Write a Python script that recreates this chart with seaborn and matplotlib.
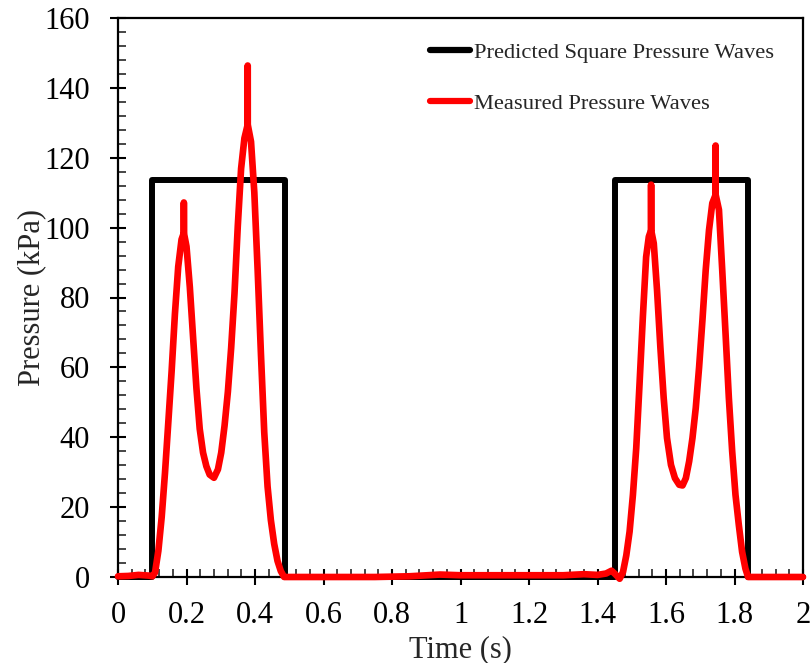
import numpy as np
import pandas as pd
import matplotlib
matplotlib.use("Agg")
import matplotlib.pyplot as plt
import seaborn as sns
from matplotlib.ticker import MultipleLocator, FixedLocator, FixedFormatter

# ---- data ----
t_square = [0.0, 0.100, 0.100, 0.487, 0.487, 1.452, 1.452, 1.840, 1.840, 2.0]
p_square = [0.0, 0.0, 113.5, 113.5, 0.0, 0.0, 113.5, 113.5, 0.0, 0.0]

t_measured = [
    0.0, 0.03, 0.06, 0.09, 0.1005, 0.1082,
    0.1179, 0.1276, 0.1372, 0.1469, 0.1565, 0.1662, 0.1758, 0.1855, 0.1923, 0.1923, 0.1924,
    0.2000, 0.2097, 0.2193, 0.2290, 0.2386, 0.2483, 0.2580, 0.2676, 0.2802, 0.2918,
    0.3014, 0.3111, 0.3208, 0.3304, 0.3401, 0.3497, 0.3594, 0.3691, 0.3787, 0.3787, 0.3788,
    0.3884, 0.3980, 0.4077, 0.4174, 0.4270, 0.4367, 0.4463, 0.4560, 0.4657, 0.4753, 0.4850,
    0.60, 0.75, 0.85, 0.94, 1.00, 1.10, 1.20, 1.30, 1.36, 1.40, 1.425, 1.441, 1.452, 1.4647,
    1.4744, 1.4841, 1.4937, 1.5034, 1.5131, 1.5227, 1.5324, 1.5420, 1.5498, 1.5565, 1.5565, 1.5566,
    1.5643, 1.5739, 1.5836, 1.5932, 1.6029, 1.6145, 1.6261, 1.6386, 1.6483, 1.6580, 1.6676,
    1.6773, 1.6869, 1.6966, 1.7063, 1.7159, 1.7256, 1.7352, 1.7449, 1.7449, 1.7450,
    1.7546, 1.7642, 1.7739, 1.7835, 1.7932, 1.8029, 1.8126, 1.8222, 1.8319, 1.8396, 1.90, 2.0,
]
p_measured = [
    0.2, 0.3, 0.6, 0.4, 0.2, 1.3,
    7.5, 17.2, 29.8, 44.3, 58.8, 75.3, 88.8, 96.6, 98.5, 107.2, 98.5,
    94.6, 83.0, 68.5, 54.0, 42.4, 35.6, 31.7, 29.3, 28.4, 30.8,
    35.6, 43.3, 53.0, 65.6, 81.1, 100.4, 116.9, 125.6, 129.5, 146.4, 129.5,
    124.6, 110.1, 87.9, 63.7, 41.4, 25.9, 16.3, 9.5, 4.6, 1.7, 0.0,
    0.0, 0.0, 0.2, 0.7, 0.5, 0.5, 0.5, 0.5, 0.8, 0.6, 1.0, 1.8, 0.8, -0.5,
    1.4, 6.2, 13.0, 23.5, 36.9, 55.2, 74.4, 91.6, 97.4, 99.3, 112.3, 99.3,
    95.5, 82.0, 65.7, 51.3, 39.8, 32.1, 28.3, 26.4, 26.2, 28.3, 33.1,
    39.8, 48.4, 60.0, 73.4, 87.8, 99.3, 107.0, 109.4, 123.5, 109.4,
    105.1, 87.8, 69.6, 51.3, 36.0, 23.5, 14.9, 7.2, 2.4, 0.0, 0.0, 0.0,
]

x_ticks = [0, 0.2, 0.4, 0.6, 0.8, 1.0, 1.2, 1.4, 1.6, 1.8, 2.0]
x_labels = ["0", "0.2", "0.4", "0.6", "0.8", "1", "1.2", "1.4", "1.6", "1.8", "2"]
y_ticks = [0, 20, 40, 60, 80, 100, 120, 140, 160]
y_labels = ["0", "20", "40", "60", "80", "100", "120", "140", "160"]

label_square = "Predicted Square Pressure Waves"
label_meas = "Measured Pressure Waves"

# ---- style ----
sns.set_style("white")
plt.rcParams["font.family"] = ["Liberation Serif", "DejaVu Serif"]

fig = plt.figure(figsize=(8.11, 6.63), dpi=100)
ax = fig.add_axes([118 / 811, (663 - 577) / 663, 685 / 811, 559 / 663])

df_sq = pd.DataFrame({"t": t_square, "p": p_square})
df_me = pd.DataFrame({"t": t_measured, "p": p_measured})

sns.lineplot(data=df_sq, x="t", y="p", ax=ax, color="black", lw=4.3,
             estimator=None, sort=False, label=label_square, clip_on=False, zorder=3)
sns.lineplot(data=df_me, x="t", y="p", ax=ax, color="#ff0000", lw=4.8,
             estimator=None, sort=False, label=label_meas, clip_on=False, zorder=4)

for ln in ax.lines:
    ln.set_solid_joinstyle("round")
    ln.set_solid_capstyle("round")

ax.set_xlim(0, 2)
ax.set_ylim(0, 160)

ax.xaxis.set_major_locator(FixedLocator(x_ticks))
ax.xaxis.set_major_formatter(FixedFormatter(x_labels))
ax.yaxis.set_major_locator(FixedLocator(y_ticks))
ax.yaxis.set_major_formatter(FixedFormatter(y_labels))
ax.xaxis.set_minor_locator(MultipleLocator(0.04))
ax.yaxis.set_minor_locator(MultipleLocator(4))

ax.tick_params(which="major", direction="inout", length=12, width=1.5,
               labelsize=22, colors="black", bottom=True, left=True,
               top=False, right=False)
ax.tick_params(axis="x", which="major", pad=11)
ax.tick_params(axis="y", which="major", pad=14)
ax.tick_params(which="minor", direction="in", length=6, width=1.2,
               bottom=True, left=True, top=False, right=False)

for s in ax.spines.values():
    s.set_linewidth(1.6)
    s.set_color("black")

ax.set_xlabel("Time (s)", fontsize=22, labelpad=4)
ax.set_ylabel("Pressure (kPa)", fontsize=22, labelpad=-1)

leg = ax.legend(loc="upper left", bbox_to_anchor=(0.455, 0.956), frameon=False,
                fontsize=16.2, handlelength=1.78, handletextpad=0.2,
                labelspacing=1.31, borderpad=0, borderaxespad=0)
for h in leg.get_lines():
    h.set_linewidth(4.5)

fig.savefig("out.png", dpi=100)
